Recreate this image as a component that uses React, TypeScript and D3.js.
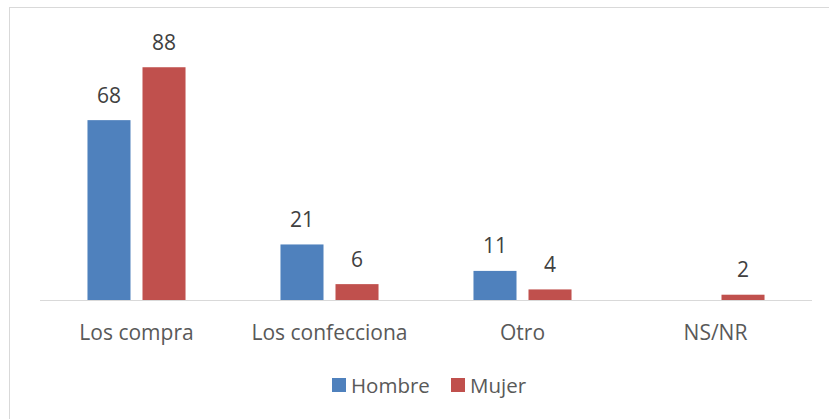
import { useEffect, useRef } from "react";
import * as d3 from "d3";

const categories = ["Los compra", "Los confecciona", "Otro", "NS/NR"];
const seriesNames = ["Hombre", "Mujer"];
const hombreValues: (number | null)[] = [68, 21, 11, null];
const mujerValues: (number | null)[] = [88, 6, 4, 2];
const seriesColors = ["#4F81BD", "#C0504D"];

const W = 829;
const H = 419;
const FONT = "'Open Sans', 'Noto Sans', sans-serif";

function App() {
  const svgRef = useRef<SVGSVGElement>(null);

  useEffect(() => {
    const svgElement = svgRef.current;
    if (!svgElement) return;

    const svg = d3.select(svgElement);

    // chart frame (runs past the right and bottom edges)
    svg
      .append("rect")
      .attr("x", 9.5)
      .attr("y", 7.5)
      .attr("width", W + 10)
      .attr("height", H + 10)
      .attr("fill", "#fff")
      .attr("stroke", "#d9d9d9")
      .attr("stroke-width", 1);

    const left = 40;
    const right = 812;
    const baseY = 300;

    const x0 = d3
      .scaleBand()
      .domain(categories)
      .range([left, right])
      .paddingInner(0.492)
      .paddingOuter(0.246);

    const x1 = d3
      .scaleBand()
      .domain(seriesNames)
      .range([0, x0.bandwidth()])
      .paddingInner(0.218)
      .paddingOuter(0);

    const y = d3.scaleLinear().domain([0, 100]).range([baseY, 35.5]);

    const series = [hombreValues, mujerValues];

    const data = categories.flatMap((c, i) =>
      seriesNames.map((s, j) => ({ cat: c, name: s, value: series[j][i], color: seriesColors[j] }))
    ).filter((d) => d.value !== null) as { cat: string; name: string; value: number; color: string }[];

    // Draw bars
    svg
      .selectAll(".bar")
      .data(data)
      .enter()
      .append("rect")
      .attr("class", "bar")
      .attr("x", (d) => (x0(d.cat) || 0) + (x1(d.name) || 0))
      .attr("y", (d) => y(d.value))
      .attr("width", x1.bandwidth())
      .attr("height", (d) => baseY - y(d.value))
      .attr("fill", (d) => d.color);

    // value labels
    svg
      .selectAll(".label")
      .data(data)
      .enter()
      .append("text")
      .attr("class", "label")
      .attr("x", (d) => (x0(d.cat) || 0) + (x1(d.name) || 0) + x1.bandwidth() / 2)
      .attr("y", (d) => y(d.value) - 17.5)
      .attr("text-anchor", "middle")
      .text((d) => d.value)
      .style("font-family", FONT)
      .style("font-size", "21px")
      .style("fill", "#404040");

    // x axis
    const xAxis = svg
      .append("g")
      .attr("class", "x-axis")
      .attr("transform", `translate(0,${baseY})`)
      .call(d3.axisBottom(x0).tickSize(0).tickPadding(0));

    xAxis.select(".domain").attr("stroke", "#d9d9d9").attr("d", `M${left},0.5H${right}`);
    xAxis
      .selectAll("text")
      .attr("dy", null)
      .attr("y", 39.5)
      .style("font-family", FONT)
      .style("font-size", "21px")
      .style("fill", "#595959");

    // legend
    const legendItems = [
      { name: seriesNames[0], color: seriesColors[0], x: 332 },
      { name: seriesNames[1], color: seriesColors[1], x: 451 },
    ];
    const legend = svg
      .selectAll(".legend")
      .data(legendItems)
      .enter()
      .append("g")
      .attr("class", "legend")
      .attr("transform", (d) => `translate(${d.x},378)`);

    legend
      .append("rect")
      .attr("width", 14)
      .attr("height", 14)
      .attr("fill", (d) => d.color);

    legend
      .append("text")
      .attr("x", 19)
      .attr("y", 14.5)
      .text((d) => d.name)
      .style("font-family", FONT)
      .style("font-size", "20.5px")
      .style("fill", "#595959");

    return () => {
      d3.select(svgElement).selectAll("*").remove();
    };
  }, []);

  return (
    <div style={{ position: "absolute", left: 0, top: 0 }}>
      <svg ref={svgRef} width={W} height={H} style={{ display: "block" }}></svg>
    </div>
  );
}

export default App;
